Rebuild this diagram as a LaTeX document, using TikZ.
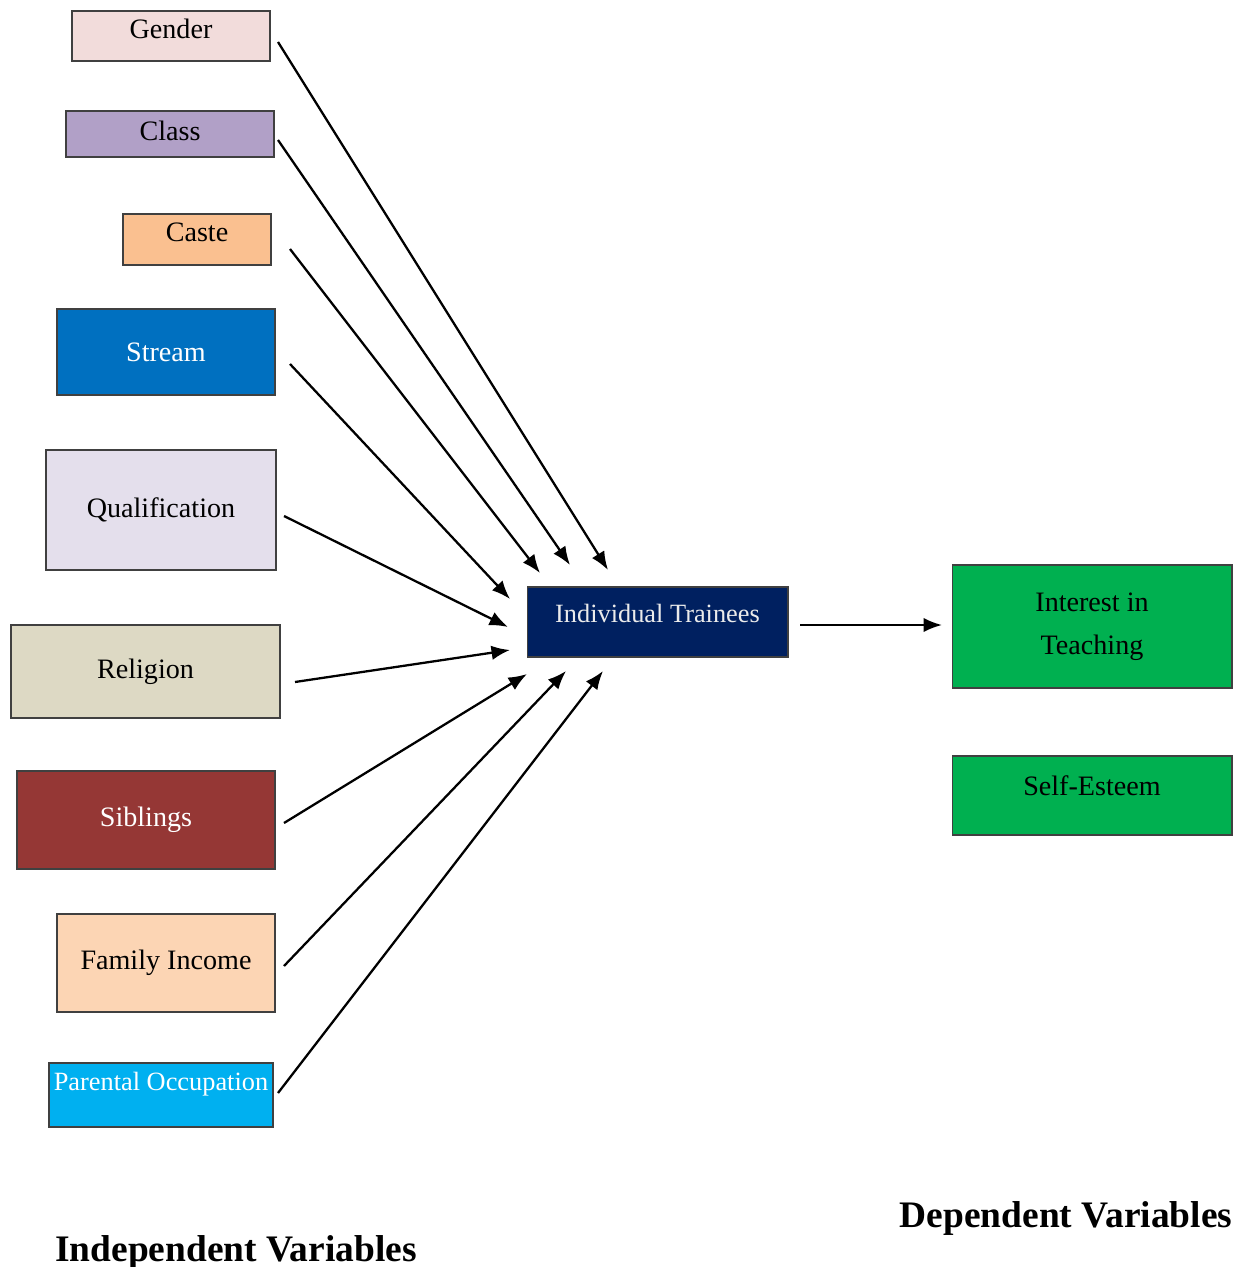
\documentclass[tikz,border=0pt]{standalone}
\usepackage{fontspec}
\setmainfont{Liberation Serif}
\usetikzlibrary{arrows.meta}
\definecolor{rose}{HTML}{F2DCDB}
\definecolor{mauve}{HTML}{B1A0C7}
\definecolor{peche}{HTML}{FAC090}
\definecolor{bleu}{HTML}{0070C0}
\definecolor{lavande}{HTML}{E4DFEC}
\definecolor{beige}{HTML}{DDD9C4}
\definecolor{brique}{HTML}{953735}
\definecolor{saumon}{HTML}{FCD5B4}
\definecolor{cyan}{HTML}{00B0F0}
\definecolor{marine}{HTML}{002060}
\definecolor{vert}{HTML}{00B050}
\tikzset{
	boite/.style={draw=black!75,line width=0.6pt,inner sep=0pt,align=center,font=\fontsize{16}{24.5}\selectfont},
	fleche/.style={-{Latex[length=0.37cm,width=0.29cm]},line width=1.3pt},
	titre/.style={font=\fontsize{21.3}{25}\selectfont\bfseries}
}

\begin{document}
\begin{tikzpicture}[x=0.02cm,y=-0.02cm]
				\useasboundingbox (0,0) rectangle (1243,1267);
				% Variables indépendantes
				\node [boite,fill=rose,minimum width=3.96cm,minimum height=1cm,text depth=0.3cm] (gender) at (171,36) {Gender};
				\node [boite,fill=mauve,minimum width=4.16cm,minimum height=0.92cm,text depth=0.14cm] (class) at (170,134) {Class};
				\node [boite,fill=peche,minimum width=2.96cm,minimum height=1.02cm,text depth=0.28cm] (caste) at (197,239.5) {Caste};
				\node [boite,fill=bleu,text=white,minimum width=4.36cm,minimum height=1.72cm] (stream) at (166,352) {Stream};
				\node [boite,fill=lavande,minimum width=4.6cm,minimum height=2.4cm] (quali) at (161,510) {Qualification};
				\node [boite,fill=beige,minimum width=5.38cm,minimum height=1.86cm] (religion) at (145.5,671.5) {Religion};
				\node [boite,fill=brique,text=white,minimum width=5.16cm,minimum height=1.96cm] (siblings) at (146,820) {Siblings};
				\node [boite,fill=saumon,minimum width=4.36cm,minimum height=1.96cm] (income) at (166,963) {Family Income};
				\node [boite,fill=cyan,text=white,font=\fontsize{15}{18}\selectfont,minimum width=4.48cm,minimum height=1.28cm,text depth=0.56cm] (parent) at (161,1095) {Parental Occupation};
				% Centre et variables dépendantes
				\node [boite,fill=marine,text=white!92!black,font=\fontsize{15}{18}\selectfont,minimum width=5.22cm,minimum height=1.4cm,text depth=0.36cm] (trainees) at (657.5,622) {Individual Trainees};
				\node [boite,fill=vert,minimum width=5.6cm,minimum height=2.46cm] (interest) at (1092,626.5) {Interest in\\Teaching};
				\node [boite,fill=vert,minimum width=5.6cm,minimum height=1.58cm,text depth=0.38cm] (esteem) at (1092,795.5) {Self-Esteem};
				\node [titre] (indep) at (236,1252) {Independent Variables};
				\node [titre] (dep) at (1066,1218) {Dependent Variables};
				% Flèches
				\coordinate (gender-out) at (278,42);    \coordinate (gender-in) at (608,570);
				\coordinate (class-out) at (278,140);    \coordinate (class-in) at (570,565);
				\coordinate (caste-out) at (290,249);    \coordinate (caste-in) at (540,573);
				\coordinate (stream-out) at (290,364);   \coordinate (stream-in) at (510,599);
				\coordinate (quali-out) at (284,516);    \coordinate (quali-in) at (508,627);
				\coordinate (religion-out) at (295,682); \coordinate (religion-in) at (510,650);
				\coordinate (siblings-out) at (284,823); \coordinate (siblings-in) at (527,674);
				\coordinate (income-out) at (284,966);   \coordinate (income-in) at (566,671);
				\coordinate (parent-out) at (278,1093);  \coordinate (parent-in) at (603,671);
				\coordinate (trainees-out) at (800,625); \coordinate (interest-in) at (942,625);
				\draw [fleche] (gender-out) -- (gender-in);
				\draw [fleche] (class-out) -- (class-in);
				\draw [fleche] (caste-out) -- (caste-in);
				\draw [fleche] (stream-out) -- (stream-in);
				\draw [fleche] (quali-out) -- (quali-in);
				\draw [fleche] (religion-out) -- (religion-in);
				\draw [fleche] (siblings-out) -- (siblings-in);
				\draw [fleche] (income-out) -- (income-in);
				\draw [fleche] (parent-out) -- (parent-in);
				\draw [fleche] (trainees-out) -- (interest-in);
\end{tikzpicture}
\end{document}
